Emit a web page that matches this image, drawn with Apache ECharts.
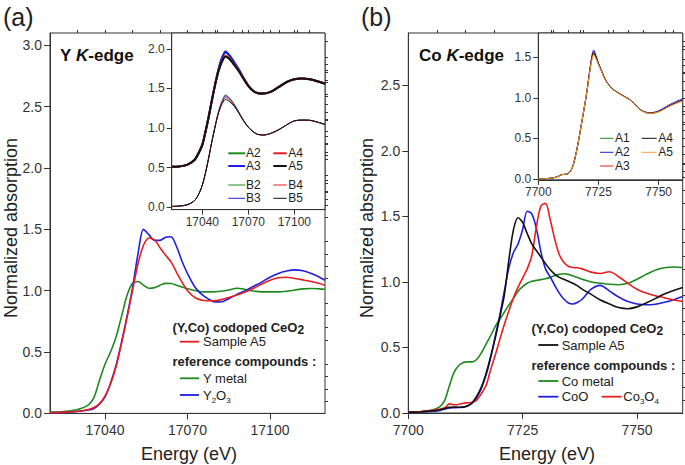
<!DOCTYPE html>
<html><head><meta charset="utf-8">
<script src="https://cdn.jsdelivr.net/npm/echarts@6/dist/echarts.min.js"></script>
<style>html,body{margin:0;padding:0;background:#fff}#c{width:685px;height:465px}</style>
</head><body><div id="c"></div>
<script>
// ---------- Panel (a): Y K-edge main ----------
const energyA = [17020,17025,17030,17034,17036,17038,17040,17042,17044,17046,17048,17050,17052,17054,17056,17058,17060,17062,17064,17066,17068,17070,17073,17076,17079,17082,17085,17088,17091,17094,17097,17100,17103,17106,17109,17112,17115,17118,17120];
const yMetal = [0.01,0.016,0.032,0.07,0.13,0.27,0.40,0.50,0.62,0.79,0.96,1.06,1.075,1.045,1.02,1.025,1.045,1.06,1.058,1.045,1.03,1.015,1.0,0.99,0.99,0.995,1.005,1.02,1.01,0.997,0.99,0.99,0.99,0.995,1.005,1.015,1.018,1.015,1.012];
const y2o3 = [0.004,0.008,0.015,0.027,0.04,0.075,0.135,0.245,0.39,0.58,0.79,1.02,1.30,1.50,1.455,1.41,1.41,1.435,1.44,1.36,1.24,1.14,1.02,0.955,0.915,0.908,0.935,0.97,1.0,1.035,1.07,1.11,1.14,1.16,1.17,1.162,1.14,1.11,1.085];
const sampleA5_Y = [0.005,0.01,0.018,0.032,0.048,0.08,0.14,0.24,0.38,0.57,0.78,1.0,1.22,1.37,1.43,1.415,1.35,1.29,1.235,1.15,1.07,1.0,0.94,0.92,0.918,0.925,0.945,0.965,0.99,1.02,1.055,1.085,1.105,1.11,1.10,1.088,1.075,1.058,1.045];

// ---------- Panel (a) inset ----------
const energyAi = [17020,17025,17030,17035,17038,17040,17042,17044,17046,17048,17050,17052,17054,17055,17056,17058,17061,17064,17067,17070,17073,17076,17080,17085,17090,17095,17100,17105,17110,17115,17120];
const insA2 = [0.51,0.515,0.535,0.60,0.70,0.79,0.95,1.13,1.33,1.52,1.70,1.84,1.93,1.95,1.945,1.905,1.82,1.73,1.625,1.535,1.472,1.442,1.436,1.461,1.521,1.581,1.616,1.626,1.616,1.591,1.561];
const insA3 = [0.51,0.515,0.535,0.60,0.70,0.79,0.95,1.13,1.33,1.52,1.70,1.85,1.94,1.965,1.955,1.91,1.825,1.735,1.63,1.537,1.473,1.443,1.437,1.462,1.522,1.582,1.617,1.627,1.617,1.592,1.562];
const insA4 = [0.51,0.515,0.535,0.60,0.70,0.79,0.95,1.13,1.33,1.52,1.685,1.81,1.895,1.91,1.905,1.87,1.795,1.715,1.62,1.532,1.471,1.441,1.435,1.46,1.52,1.58,1.615,1.625,1.615,1.59,1.56];
const insA5 = [0.51,0.515,0.535,0.60,0.70,0.79,0.95,1.13,1.33,1.52,1.68,1.80,1.885,1.90,1.895,1.865,1.79,1.71,1.615,1.53,1.47,1.44,1.435,1.46,1.52,1.58,1.615,1.625,1.615,1.59,1.56];
const insB2 = [0.01,0.015,0.03,0.085,0.18,0.28,0.43,0.61,0.81,0.99,1.17,1.30,1.39,1.42,1.41,1.375,1.295,1.195,1.095,1.012,0.956,0.921,0.913,0.936,0.981,1.041,1.091,1.101,1.099,1.076,1.046];
const insB3 = [0.01,0.015,0.03,0.085,0.18,0.28,0.43,0.61,0.81,0.99,1.165,1.295,1.38,1.405,1.398,1.365,1.29,1.19,1.09,1.011,0.955,0.92,0.912,0.935,0.98,1.04,1.09,1.10,1.098,1.075,1.045];
const insB4 = [0.01,0.015,0.03,0.085,0.18,0.28,0.43,0.61,0.81,0.99,1.16,1.285,1.365,1.385,1.38,1.35,1.28,1.185,1.09,1.01,0.955,0.92,0.912,0.935,0.98,1.04,1.09,1.10,1.098,1.075,1.045];
const insB5 = [0.01,0.015,0.03,0.085,0.18,0.28,0.43,0.61,0.81,0.99,1.15,1.27,1.345,1.36,1.355,1.33,1.27,1.18,1.085,1.01,0.955,0.92,0.912,0.935,0.98,1.04,1.09,1.10,1.098,1.075,1.045];

// ---------- Panel (b): Co K-edge main ----------
const energyB = [7700,7703,7705,7707,7708,7709,7710,7711,7712,7713,7714,7715,7716,7717,7718,7719,7720,7721,7722,7723,7724,7725,7726,7727,7728,7729,7730,7731,7732,7733,7734,7735,7736,7737,7738,7740,7742,7744,7746,7748,7750,7752,7754,7756,7758,7760];
const coMetal = [0.008,0.012,0.02,0.05,0.10,0.21,0.31,0.36,0.385,0.39,0.39,0.41,0.46,0.525,0.59,0.66,0.715,0.77,0.825,0.875,0.93,0.965,0.99,1.005,1.012,1.018,1.025,1.035,1.048,1.058,1.063,1.058,1.045,1.035,1.02,1.0,0.99,0.982,0.979,0.99,1.02,1.058,1.09,1.108,1.114,1.11];
const coO = [0.005,0.008,0.012,0.02,0.03,0.038,0.04,0.042,0.045,0.055,0.075,0.12,0.19,0.29,0.42,0.585,0.745,0.93,1.11,1.225,1.29,1.40,1.54,1.52,1.41,1.23,1.10,1.04,0.975,0.915,0.87,0.84,0.832,0.845,0.868,0.945,0.974,0.93,0.885,0.85,0.832,0.826,0.83,0.845,0.865,0.89];
const co3o4 = [0.008,0.012,0.02,0.03,0.04,0.07,0.063,0.065,0.075,0.078,0.082,0.10,0.15,0.21,0.33,0.44,0.56,0.675,0.78,0.88,0.96,1.03,1.10,1.20,1.42,1.58,1.60,1.48,1.33,1.21,1.15,1.12,1.11,1.108,1.10,1.075,1.065,1.078,1.04,0.99,0.945,0.915,0.895,0.88,0.862,0.852];
const sampleA5_Co = [0.005,0.01,0.015,0.025,0.035,0.043,0.045,0.044,0.045,0.055,0.08,0.13,0.20,0.30,0.43,0.57,0.73,0.90,1.17,1.40,1.49,1.455,1.37,1.29,1.24,1.19,1.14,1.095,1.06,1.035,1.02,1.005,0.99,0.97,0.945,0.905,0.862,0.832,0.805,0.796,0.81,0.84,0.873,0.908,0.935,0.958];

// ---------- Panel (b) inset ----------
const energyBi = [7700,7703,7706,7708,7710,7712,7714,7716,7718,7720,7721,7722,7723,7724,7725,7726,7728,7730,7732,7734,7736,7738,7740,7742,7744,7746,7748,7750,7752,7754,7756,7758,7760];
const coA1 = [0.0,0.005,0.012,0.03,0.055,0.06,0.13,0.36,0.69,1.04,1.245,1.44,1.55,1.49,1.415,1.348,1.212,1.132,1.081,1.046,1.011,0.976,0.921,0.861,0.826,0.811,0.814,0.831,0.859,0.893,0.921,0.948,0.975];
const coA2 = [0.0,0.005,0.012,0.03,0.055,0.06,0.13,0.36,0.69,1.04,1.26,1.47,1.59,1.52,1.43,1.36,1.22,1.138,1.086,1.05,1.015,0.98,0.925,0.866,0.832,0.818,0.822,0.842,0.872,0.908,0.938,0.966,0.99];
const coA3 = [0.0,0.005,0.012,0.03,0.055,0.06,0.13,0.36,0.69,1.04,1.255,1.46,1.57,1.505,1.425,1.355,1.216,1.135,1.084,1.048,1.013,0.978,0.923,0.863,0.828,0.813,0.816,0.834,0.862,0.896,0.925,0.952,0.975];
const coA4 = [0.0,0.005,0.012,0.03,0.055,0.06,0.13,0.36,0.69,1.04,1.25,1.45,1.56,1.50,1.42,1.35,1.215,1.135,1.083,1.048,1.012,0.977,0.922,0.862,0.827,0.812,0.815,0.832,0.86,0.894,0.922,0.948,0.97];
const coA5 = [0.0,0.005,0.012,0.03,0.055,0.06,0.13,0.36,0.69,1.04,1.24,1.43,1.53,1.48,1.41,1.345,1.21,1.13,1.08,1.045,1.01,0.975,0.92,0.86,0.825,0.81,0.812,0.828,0.855,0.888,0.915,0.94,0.96];

// ---------- Tick values ----------
const ticksAxMajor = [17040,17070,17100];
const ticksAxMinor = [17030,17040,17050,17060,17070,17080,17090,17100,17110];
const ticksAyMajor = [0,0.5,1.0,1.5,2.0,2.5,3.0];
const ticksAyMinor = [0.1,0.2,0.3,0.4,0.6,0.7,0.8,0.9,1.1,1.2,1.3,1.4,1.6,1.7,1.8,1.9,2.1,2.2,2.3,2.4,2.6,2.7,2.8,2.9];
const ticksAiyMajor = [0,0.5,1.0,1.5,2.0];
const ticksAiyMinor = [0.1,0.2,0.3,0.4,0.6,0.7,0.8,0.9,1.1,1.2,1.3,1.4,1.6,1.7,1.8,1.9,2.1];
const ticksBxMajor = [7700,7725,7750];
const ticksBxMinor = [7706.25,7712.5,7718.75,7731.25,7737.5,7743.75,7756.25];
const ticksByMajor = [0,0.5,1.0,1.5,2.0,2.5];
const ticksByMinor = [0.1,0.2,0.3,0.4,0.6,0.7,0.8,0.9,1.1,1.2,1.3,1.4,1.6,1.7,1.8,1.9,2.1,2.2,2.3,2.4,2.6,2.7,2.8];
const ticksBiyMajor = [0,0.5,1.0,1.5];
const ticksBiyMinor = [0.1,0.2,0.3,0.4,0.6,0.7,0.8,0.9,1.1,1.2,1.3,1.4,1.6,1.7];

const FF = '"Liberation Sans", Arial, Helvetica, sans-serif';
const AX = '#333';
const C = {green:'#1e8a1e', red:'#e61e1e', blue:'#1f1fe0', black:'#111111', orange:'#f5a133'};

function pairs(E, V) { return E.map((e, i) => [e, V[i]]); }

function axisPair(grid, min, max, majors, minors, o) {
  const base = {type:'value', gridIndex:grid, min:min, max:max, splitLine:{show:false}, silent:true};
  const major = Object.assign({}, base, {
    axisLine:{show:true, onZero:false, lineStyle:{color:AX, width:1}},
    axisTick:{show:true, inside:false, length:o.majLen, customValues:majors, lineStyle:{color:AX, width:1}},
    axisLabel:{show:true, customValues:majors, margin:o.margin, fontSize:o.fs, color:'#333', fontFamily:FF, formatter:o.fmt,
      showMinLabel:true, showMaxLabel:true, hideOverlap:false}
  });
  const minor = Object.assign({}, base, {
    axisLine:{show:false, onZero:false},
    axisTick:{show:true, inside:false, length:o.minLen, customValues:minors, lineStyle:{color:AX, width:1}},
    axisLabel:{show:false}
  });
  return [major, minor];
}
const fmtX = v => String(Math.round(v));
const fmtY = v => v.toFixed(1);

const xAxes = [].concat(
  axisPair(0, 17020, 17120, ticksAxMajor, ticksAxMinor, {majLen:6, minLen:3, margin:10, fs:14, fmt:fmtX}),
  axisPair(1, 17020, 17120, ticksAxMajor, ticksAxMinor, {majLen:5, minLen:3, margin:6, fs:12, fmt:fmtX}),
  axisPair(2, 7700, 7760, ticksBxMajor, ticksBxMinor, {majLen:6, minLen:3, margin:10, fs:14, fmt:fmtX}),
  axisPair(3, 7700, 7760, ticksBxMajor, ticksBxMinor, {majLen:5, minLen:3, margin:6, fs:12, fmt:fmtX})
);
const yAxes = [].concat(
  axisPair(0, 0, 3.1, ticksAyMajor, ticksAyMinor, {majLen:6, minLen:3, margin:8, fs:14, fmt:fmtY}),
  axisPair(1, -0.03, 2.2, ticksAiyMajor, ticksAiyMinor, {majLen:5, minLen:3, margin:7, fs:12, fmt:fmtY}),
  axisPair(2, 0, 2.9, ticksByMajor, ticksByMinor, {majLen:6, minLen:3, margin:8, fs:14, fmt:fmtY}),
  axisPair(3, -0.01, 1.8, ticksBiyMajor, ticksBiyMinor, {majLen:5, minLen:3, margin:7, fs:12, fmt:fmtY})
);

function line(axIdx, E, V, color, w) {
  return {type:'line', xAxisIndex:axIdx*2, yAxisIndex:axIdx*2, data:pairs(E, V), symbol:'none', showSymbol:false,
    smooth:0.3, lineStyle:{color:color, width:w}, itemStyle:{color:color}, silent:true, animation:false};
}

const series = [
  line(0, energyA, yMetal, C.green, 1.6),
  line(0, energyA, y2o3, C.blue, 1.6),
  line(0, energyA, sampleA5_Y, C.red, 1.6),
  line(1, energyAi, insA2, C.green, 2),
  line(1, energyAi, insA3, C.blue, 2),
  line(1, energyAi, insA4, C.red, 2),
  line(1, energyAi, insA5, C.black, 2),
  line(1, energyAi, insB2, C.green, 1),
  line(1, energyAi, insB3, C.blue, 1),
  line(1, energyAi, insB4, C.red, 1),
  line(1, energyAi, insB5, C.black, 1),
  line(2, energyB, coMetal, C.green, 1.6),
  line(2, energyB, coO, C.blue, 1.6),
  line(2, energyB, co3o4, C.red, 1.6),
  line(2, energyB, sampleA5_Co, C.black, 1.6),
  line(3, energyBi, coA1, C.green, 1),
  line(3, energyBi, coA2, C.blue, 1),
  line(3, energyBi, coA3, C.red, 1),
  line(3, energyBi, coA4, C.black, 1),
  line(3, energyBi, coA5, C.orange, 1)
];

function T(x, y, text, o) {
  o = o || {};
  const el = {type:'text', x:x, y:y, silent:true, z:100,
    style:{text:text, fill:o.fill || '#222', fontSize:o.fs || 13, fontWeight:o.fw || 'normal', fontFamily:FF,
      align:o.align || 'left', verticalAlign:'middle', rich:o.rich}};
  if (o.rot) el.rotation = o.rot;
  return el;
}
function L(x1, x2, y, color, w) {
  return {type:'line', silent:true, z:100, shape:{x1:x1, y1:y, x2:x2, y2:y}, style:{stroke:color, lineWidth:w}};
}
function subRich(fs, fw, subFs) {
  return {
    n:{fontSize:fs, fontWeight:fw, fontFamily:FF, fill:'#222', lineHeight:18, verticalAlign:'middle'},
    s:{fontSize:subFs, fontWeight:fw, fontFamily:FF, fill:'#222', lineHeight:8, verticalAlign:'bottom'}
  };
}
const edgeRich = {
  n:{fontSize:17, fontWeight:'bold', fontFamily:FF, fill:'#111'},
  i:{fontSize:17, fontWeight:'bold', fontStyle:'italic', fontFamily:FF, fill:'#111'}
};

const graphics = [
  T(3, 17, '(a)', {fs:25}),
  T(361, 17, '(b)', {fs:25}),
  T(60, 55, '{n|Y }{i|K}{n|-edge}', {rich:edgeRich}),
  T(419, 55, '{n|Co }{i|K}{n|-edge}', {rich:edgeRich}),
  T(11, 228, 'Normalized absorption', {fs:18, align:'center', rot:Math.PI/2}),
  T(367, 228, 'Normalized absorption', {fs:18, align:'center', rot:Math.PI/2}),
  T(189, 454, 'Energy (eV)', {fs:18, align:'center'}),
  T(547, 454, 'Energy (eV)', {fs:18, align:'center'}),
  // legend (a)
  T(172.5, 327, '{n|(Y,Co) codoped CeO}{s|2}', {rich:subRich(13, 'bold', 12)}),
  L(180, 199, 341.7, C.red, 1.8), T(203, 341.7, 'Sample A5', {fs:13}),
  T(172.5, 361.7, 'reference compounds :', {fs:13, fw:'bold'}),
  L(180, 199, 378.3, C.green, 1.8), T(203, 378.3, 'Y metal', {fs:13}),
  L(180, 199, 395, C.blue, 1.8), T(203, 395, '{n|Y}{s|2}{n|O}{s|3}', {rich:subRich(13, 'normal', 8)}),
  // legend (b)
  T(531.5, 328.3, '{n|(Y,Co) codoped CeO}{s|2}', {rich:subRich(13, 'bold', 12)}),
  L(538.3, 558.3, 345, C.black, 1.8), T(561.7, 345, 'Sample A5', {fs:13}),
  T(531.5, 365, 'reference compounds :', {fs:13, fw:'bold'}),
  L(538.3, 558.3, 381, C.green, 1.8), T(561.7, 381, 'Co metal', {fs:13}),
  L(538.3, 558.3, 396.7, C.blue, 1.8), T(561.7, 396.7, 'CoO', {fs:13}),
  L(601.7, 621.7, 396.7, C.red, 1.8), T(623.3, 396.7, '{n|Co}{s|3}{n|O}{s|4}', {rich:subRich(13, 'normal', 8)}),
  // inset (a) legend
  L(228.3, 245, 153.3, C.green, 2), T(246, 153.3, 'A2', {fs:12}),
  L(273.3, 286.7, 153.3, C.red, 2), T(288.3, 153.3, 'A4', {fs:12}),
  L(228.3, 245, 166, C.blue, 2), T(246, 166, 'A3', {fs:12}),
  L(273.3, 286.7, 166, C.black, 2), T(288.3, 166, 'A5', {fs:12}),
  L(228.3, 245, 185, C.green, 1), T(246, 185, 'B2', {fs:12}),
  L(273.3, 286.7, 185, C.red, 1), T(288.3, 185, 'B4', {fs:12}),
  L(228.3, 245, 198.3, C.blue, 1), T(246, 198.3, 'B3', {fs:12}),
  L(273.3, 286.7, 198.3, C.black, 1), T(288.3, 198.3, 'B5', {fs:12}),
  // inset (b) legend
  L(600, 613.3, 138.3, C.green, 1), T(615, 138.3, 'A1', {fs:12}),
  L(641.7, 656.7, 138.3, C.black, 1), T(658.3, 138.3, 'A4', {fs:12}),
  L(600, 613.3, 152.3, C.blue, 1), T(615, 152.3, 'A2', {fs:12}),
  L(641.7, 656.7, 152.3, C.orange, 1), T(658.3, 152.3, 'A5', {fs:12}),
  L(600, 613.3, 166, C.red, 1), T(615, 166, 'A3', {fs:12})
];

const chart = echarts.init(document.getElementById('c'), null, {renderer:'svg', width:685, height:465});
chart.setOption({
  animation:false,
  backgroundColor:'#fff',
  grid:[
    {left:50, top:33, width:275, height:380.4, show:true, borderColor:AX, borderWidth:1, backgroundColor:'transparent'},
    {left:171.7, top:33, width:153.3, height:176.6, show:true, borderColor:AX, borderWidth:1, backgroundColor:'#fff'},
    {left:408.3, top:33, width:274.4, height:380, show:true, borderColor:AX, borderWidth:1, backgroundColor:'transparent'},
    {left:538.3, top:33, width:144.4, height:146.8, show:true, borderColor:AX, borderWidth:1, backgroundColor:'#fff'}
  ],
  xAxis:xAxes,
  yAxis:yAxes,
  series:series,
  graphic:graphics
});
</script></body></html>
